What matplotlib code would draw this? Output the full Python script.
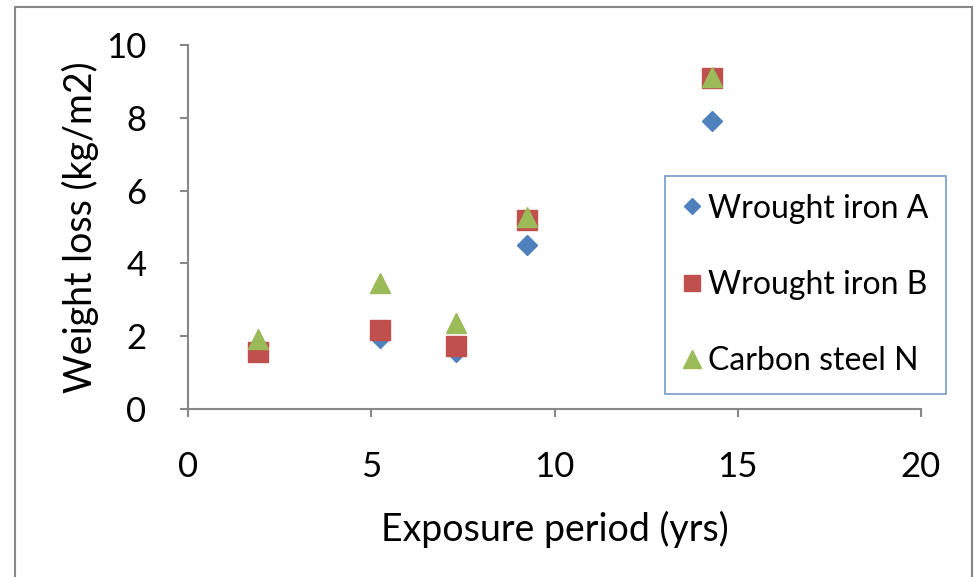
import matplotlib
matplotlib.use("Agg")
import matplotlib.pyplot as plt
from matplotlib.patches import Rectangle

# exposure period (yrs)
years = [1.9, 5.25, 7.3, 9.25, 14.3]
# weight loss (kg/m2)
wrought_a = [1.7, 1.95, 1.57, 4.5, 7.92]
wrought_b = [1.57, 2.18, 1.73, 5.2, 9.1]
carbon_n = [1.92, 3.47, 2.35, 5.27, 9.12]

x_ticks = [0, 5, 10, 15, 20]
y_ticks = [0, 2, 4, 6, 8, 10]

plt.rcParams['font.family'] = ['Lato', 'DejaVu Sans']

fig = plt.figure(figsize=(9.76, 5.77), dpi=100)
W, H = 976, 577
ax = fig.add_axes([188 / W, 1 - 409 / H, (921 - 188) / W, (409 - 45) / H])

gray = "#888888"
ax.plot(years, wrought_a, linestyle="none", marker="D", markersize=10,
        color="#4F81BD", label="Wrought iron A")
ax.plot(years, wrought_b, linestyle="none", marker="s", markersize=14,
        color="#C0504D", label="Wrought iron B")
ax.plot(years, carbon_n, linestyle="none", marker="^", markersize=15,
        color="#9BBB59", label="Carbon steel N")

ax.set_xlim(0, 20)
ax.set_ylim(0, 10)
ax.set_xticks(x_ticks)
ax.set_yticks(y_ticks)
for side in ["top", "right"]:
    ax.spines[side].set_visible(False)
for side in ["left", "bottom"]:
    ax.spines[side].set_color(gray)
    ax.spines[side].set_linewidth(1.5)
ax.tick_params(axis="both", direction="out", length=6, width=1.5,
               color=gray, labelsize=25)
ax.tick_params(axis="x", pad=24)
ax.tick_params(axis="y", pad=24)
ax.set_xlabel("Exposure period (yrs)", fontsize=27, labelpad=20)
ax.set_ylabel("Weight loss (kg/m2)", fontsize=27, labelpad=5)

leg = fig.legend(loc="upper left", bbox_to_anchor=(665 / W, 1 - 176 / H),
                 fontsize=23, frameon=True, fancybox=False,
                 handlelength=0.6, handletextpad=0.2, labelspacing=1.45,
                 borderpad=0.55, borderaxespad=0, markerscale=0.85)
leg.get_frame().set_edgecolor("#4F81BD")
leg.get_frame().set_linewidth(1.2)

fig.patches.append(Rectangle((15 / W, -0.1), (972 - 15) / W, 1.1 - 7 / H,
                             transform=fig.transFigure, fill=False,
                             edgecolor=gray, linewidth=1.5))

fig.savefig("out.png", dpi=100)
